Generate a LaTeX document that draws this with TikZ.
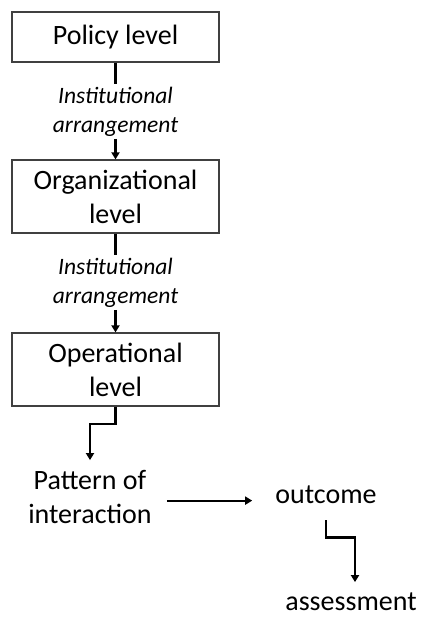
\documentclass[tikz,border=0pt]{standalone}
\usepackage{fontspec}
\setmainfont{Carlito}
\usetikzlibrary{arrows.meta}
\begin{document}
\begin{tikzpicture}[x=1pt,y=-1pt,
  box/.style={draw=black!75, line width=1.2pt, minimum width=207pt, inner sep=0pt, align=center, font=\fontsize{28}{34}\selectfont},
  lab/.style={align=center, inner sep=0pt, font=\fontsize{23.5}{29}\selectfont\itshape},
  txt/.style={align=center, inner sep=0pt, font=\fontsize{28}{34}\selectfont},
  conn/.style={line width=2.2pt},
  arr/.style={line width=2.2pt, -{Triangle[length=7pt,width=8pt]}}]
\useasboundingbox (0,0) rectangle (422,620);
\node[box, minimum height=50pt] (b1) at (115.5,37) {Policy level};
\node[box, minimum height=73pt] (b2) at (115.5,196.5) {Organizational\\level};
\node[box, minimum height=73pt] (b3) at (115.5,369.5) {Operational\\level};
\node[lab] (l1) at (115.5,112) {Institutional\\arrangement};
\node[lab] (l2) at (115.5,283) {Institutional\\arrangement};
\node[txt] (pat) at (90,497) {Pattern of\\interaction};
\node[txt, anchor=base] (out) at (326,503) {outcome};
\node[txt, anchor=base] (as) at (351,610) {assessment};
\draw[conn, shorten >=3pt] (b1) -- (l1);
\draw[arr, shorten <=2pt] (l1) -- (b2);
\draw[conn, shorten >=3pt] (b2) -- (l2);
\draw[arr, shorten <=2pt] (l2) -- (b3);
\draw[arr, shorten >=10pt] (b3.south) -- ++(0,17) -| (pat.north);
\draw[arr, shorten <=15pt, shorten >=23pt] (pat.east |- out.mid west) -- (out.mid west);
\draw[arr, shorten <=17pt, shorten >=10pt] (out.south) -- ++(0,34) -| ([xshift=4pt]as.north);
\end{tikzpicture}
\end{document}
